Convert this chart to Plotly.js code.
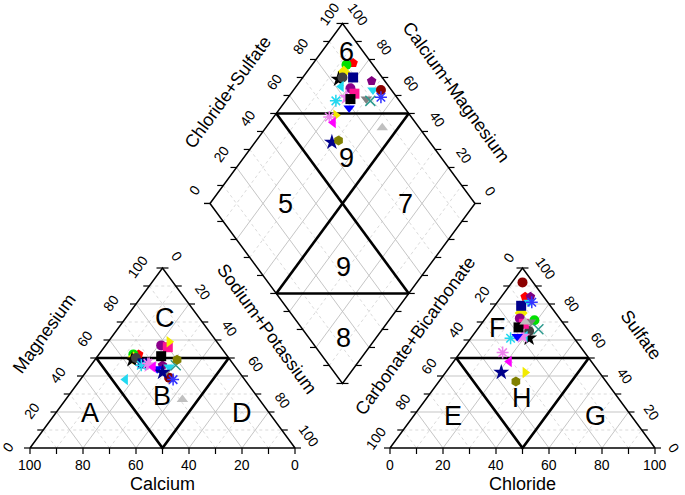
<!DOCTYPE html>
<html>
<head>
<meta charset="utf-8">
<script src="https://cdn.plot.ly/plotly-3.0.1.min.js"></script>
<style>
  html, body { margin: 0; padding: 0; background: #fff; }
  #piper { width: 685px; height: 495px; }
</style>
</head>
<body>
<div id="piper"></div>
<script>
// one entry per water sample, percentages of meq/L
const symbols = ['pentagon', 'circle', 'diamond', 'star', 'circle', 'square', 'pentagon', 'triangle-down',
  'circle', 'triangle-left', 'circle', 'square', 'star', 'asterisk-open', 'square', 'triangle-down',
  'x-thin-open', 'asterisk-open', 'triangle-down', 'triangle-right', 'asterisk-open', 'triangle-left',
  'triangle-up', 'star', 'hexagon'];
const colors = ['#FF0000', '#00E000', '#F2EA00', '#000000', '#404040', '#00008B', '#800080', '#22D8F0',
  '#8B0000', '#22D8F0', '#8B008B', '#FF1493', '#EE82EE', '#22D8F0', '#000000', '#808080',
  '#2E9A8E', '#3333FF', '#0000FF', '#F2EA00', '#EE82EE', '#FF00FF',
  '#C0C0C0', '#00008B', '#808000'];

// cations
const calcium         = [33, 35, 36, 37, 35, 34, 27, 25, 28, 45, 22, 20, 32, 35, 25, 28, 22, 27, 30, 18, 32, 31, 29, 29, 20];
const magnesium       = [52, 52, 50, 49, 50, 47, 46, 45, 39, 38, 57, 56, 46, 46, 51, 42, 46, 38, 44, 59, 47, 45, 27, 42, 49];
const sodiumPotassium = [15, 13, 14, 14, 15, 19, 27, 30, 33, 17, 21, 24, 22, 19, 24, 30, 32, 35, 26, 23, 21, 24, 44, 29, 31];
// anions
const bicarbonate     = [ 7, 10, 13, 17, 15, 11,  5,  7,  4, 18, 15, 15, 19, 24, 18, 12, 11,  6, 21, 28, 31, 31, 14, 37, 34];
const chloride        = [ 9, 19, 12, 22, 20, 10, 11, 12,  4, 20, 13, 16, 19, 15, 15, 18, 23, 13, 17, 30, 16, 21, 16, 21, 29];
const sulfate         = [84, 71, 75, 61, 65, 79, 84, 81, 92, 62, 72, 69, 62, 61, 67, 70, 66, 81, 62, 42, 53, 48, 70, 42, 37];

const tickLabels = [0, 20, 40, 60, 80, 100];

// geometry: triangle side = 1 unit, height H, gap between the two triangles
const H = Math.sqrt(3) / 2;
const GAP = 95 / 265;
const PX = 265, PY = 180 / H;   // pixels per unit
const X0 = 30, Y0 = 448;        // pixel position of the Ca=100 corner

const FONT = 'Liberation Sans, Arial, sans-serif';

function cat(ca, mg, na) {
  const t = ca + mg + na;
  return [(na + mg / 2) / t, mg / t * H];
}
function ani(hc, cl, so) {
  const t = hc + cl + so;
  return [1 + GAP + (cl + so / 2) / t, so / t * H];
}
// diamond: cs = Cl+SO4 %, nk = Na+K %
const LX = 1 + GAP / 2 - 0.5, LY = GAP * H + H;
function dia(cs, nk) {
  return [LX + (cs + nk) / 200, LY + H * (cs - nk) / 100];
}
function off(p, dx, dy) { return [p[0] + dx / PX, p[1] - dy / PY]; }
function px(x, y) { return [(x - X0) / PX, (Y0 - y) / PY]; }

function segTrace(segs, color, width, dash) {
  const x = [], y = [];
  segs.forEach(s => {
    s.forEach(p => { x.push(p[0]); y.push(p[1]); });
    x.push(null); y.push(null);
  });
  return {
    type: 'scatter', mode: 'lines', x: x, y: y, hoverinfo: 'skip',
    line: { color: color, width: width, dash: dash || 'solid' }
  };
}

// grids
const majorGrid = [], minorGrid = [];
for (let k = 10; k < 100; k += 10) {
  const g = (k % 20 === 0) ? majorGrid : minorGrid;
  g.push([cat(100 - k, k, 0), cat(0, k, 100 - k)]);
  g.push([cat(100 - k, 0, k), cat(0, 100 - k, k)]);
  g.push([cat(k, 0, 100 - k), cat(k, 100 - k, 0)]);
  g.push([ani(100 - k, 0, k), ani(0, 100 - k, k)]);
  g.push([ani(100 - k, k, 0), ani(0, k, 100 - k)]);
  g.push([ani(k, 0, 100 - k), ani(k, 100 - k, 0)]);
  g.push([dia(k, 0), dia(k, 100)]);
  g.push([dia(0, k), dia(100, k)]);
}

// outlines
const outline = [
  [cat(100, 0, 0), cat(0, 0, 100), cat(0, 100, 0), cat(100, 0, 0)],
  [ani(100, 0, 0), ani(0, 100, 0), ani(0, 0, 100), ani(100, 0, 0)],
  [dia(0, 0), dia(100, 0), dia(100, 100), dia(0, 100), dia(0, 0)]
];

// ticks
const TH = 6 / PX, TV = 6 / PY;
const ticks = [];
for (let k = 0; k <= 100; k += 10) {
  let p;
  p = cat(100 - k, 0, k); ticks.push([p, [p[0], p[1] - TV]]);
  p = cat(100 - k, k, 0); ticks.push([p, [p[0] - TH, p[1]]]);
  p = cat(0, 100 - k, k); ticks.push([p, [p[0] + TH, p[1]]]);
  p = ani(100 - k, k, 0); ticks.push([p, [p[0], p[1] - TV]]);
  p = ani(k, 0, 100 - k); ticks.push([p, [p[0] - TH, p[1]]]);
  p = ani(0, 100 - k, k); ticks.push([p, [p[0] + TH, p[1]]]);
  p = dia(k, 0); ticks.push([p, [p[0] - TH, p[1]]]);
  p = dia(100, k); ticks.push([p, [p[0] + TH, p[1]]]);
  p = dia(0, k); ticks.push([p, [p[0] - TH, p[1]]]);
  p = dia(k, 100); ticks.push([p, [p[0] + TH, p[1]]]);
}

// field boundaries
const fields = [
  [cat(50, 50, 0), cat(0, 50, 50)],
  [cat(50, 50, 0), cat(50, 0, 50), cat(0, 50, 50)],
  [ani(50, 0, 50), ani(0, 50, 50)],
  [ani(50, 0, 50), ani(50, 50, 0), ani(0, 50, 50)],
  [dia(50, 0), dia(100, 50)],
  [dia(0, 50), dia(50, 100)],
  [dia(50, 0), dia(50, 100)],
  [dia(100, 50), dia(0, 50)]
];

function markerTrace(pts) {
  return {
    type: 'scatter', mode: 'markers', hoverinfo: 'skip',
    x: pts.map(p => p[0]), y: pts.map(p => p[1]),
    marker: {
      symbol: symbols,
      color: colors,
      opacity: 1,
      size: symbols.map(s => s === 'star' ? 12 : 10),
      line: {
        color: colors,
        width: symbols.map(s => s.indexOf('open') > 0 ? 1.5 : 0)
      }
    }
  };
}

const catPts = calcium.map((c, i) => cat(c, magnesium[i], sodiumPotassium[i]));
const aniPts = bicarbonate.map((b, i) => ani(b, chloride[i], sulfate[i]));
const diaPts = sodiumPotassium.map((n, i) => {
  const t = bicarbonate[i] + chloride[i] + sulfate[i];
  return dia((chloride[i] + sulfate[i]) / t * 100, n / (calcium[i] + magnesium[i] + n) * 100);
});

const traces = [
  segTrace(minorGrid, '#D0D0D0', 0.8, 'dot'),
  segTrace(majorGrid, '#BEBEBE', 0.9),
  segTrace(ticks, '#000000', 1.2),
  segTrace(outline, '#000000', 1.5),
  segTrace(fields, '#000000', 2.6),
  markerTrace(catPts),
  markerTrace(aniPts),
  markerTrace(diaPts)
];

const annotations = [];
function ann(p, text, size, angle) {
  annotations.push({
    x: p[0], y: p[1], xref: 'x', yref: 'y', text: String(text), showarrow: false,
    xanchor: 'center', yanchor: 'middle', textangle: angle || 0, borderpad: 0,
    font: { family: FONT, size: size, color: '#000000' }
  });
}

tickLabels.forEach(t => {
  ann(off(cat(t, 0, 100 - t), 0, 17), t, 14);
  ann(off(cat(100 - t, t, 0), t === 0 ? -22 : -25, -1), t, 14, -54);
  ann(off(cat(0, 100 - t, t), 14, -12), t, 14, 54);
  ann(off(ani(100 - t, t, 0), 0, 17), t, 14);
  ann(off(ani(t, 0, 100 - t), -14, -10), t, 14, -54);
  ann(off(ani(0, 100 - t, t), t === 0 ? 19 : 23, 0), t, 14, 54);
  ann(off(dia(t, 0), t === 100 ? -13 : -15, t === 100 ? -9 : -13), t, 14, -54);
  ann(off(dia(100, 100 - t), 15, t === 100 ? -9 : -12), t, 14, 54);
});

// axis titles
ann(px(162, 484), 'Calcium', 18);
ann(px(522, 484), 'Chloride', 18);
ann(px(44, 334), 'Magnesium', 18, -54);
ann(px(267, 329), 'Sodium+Potassium', 18, 54);
ann(px(415, 336), 'Carbonate+Bicarbonate', 18, -54);
ann(px(641, 335), 'Sulfate', 18, 54);
ann(px(228, 92), 'Chloride+Sulfate', 18, -54);
ann(px(456, 92), 'Calcium+Magnesium', 18, 54);

// hydrochemical facies labels
[['C', 165, 318], ['A', 90, 413], ['B', 162, 396], ['D', 242, 413],
 ['F', 497, 328], ['H', 522, 398], ['E', 453, 416], ['G', 595, 416],
 ['6', 346, 52], ['9', 346, 158], ['5', 285, 204], ['7', 405, 204],
 ['9', 343, 267], ['8', 343, 338]].forEach(r => ann(px(r[1], r[2]), r[0], 27));

const layout = {
  width: 685, height: 495,
  margin: { l: 0, r: 0, t: 0, b: 0 },
  paper_bgcolor: '#FFFFFF', plot_bgcolor: '#FFFFFF',
  showlegend: false,
  hovermode: false,
  xaxis: { range: [-X0 / PX, (685 - X0) / PX], visible: false, fixedrange: true },
  yaxis: { range: [(Y0 - 495) / PY, Y0 / PY], visible: false, fixedrange: true },
  annotations: annotations
};

Plotly.newPlot('piper', traces, layout, { staticPlot: true, displayModeBar: false });
</script>
</body>
</html>
